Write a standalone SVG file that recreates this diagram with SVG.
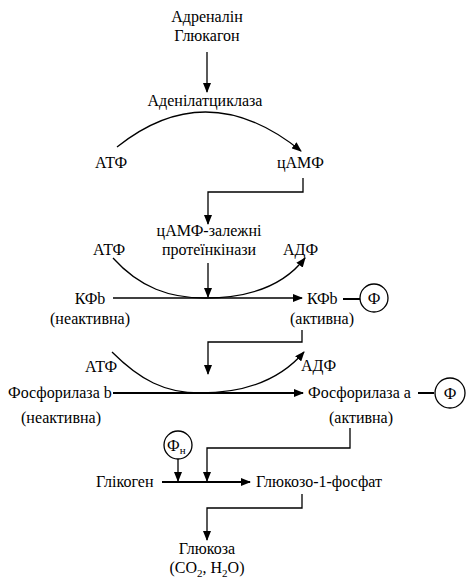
<svg xmlns="http://www.w3.org/2000/svg" width="476" height="580" viewBox="0 0 476 580">
<style>
text{font-family:"Liberation Serif","Times New Roman",serif;font-size:16px;fill:#000}
.c{text-anchor:middle}
.l{fill:none;stroke:#000;stroke-width:1.3}
.t{fill:none;stroke:#000;stroke-width:2}
.o{fill:#fff;stroke:#000;stroke-width:1.3}
</style>
<defs>
<marker id="a" viewBox="0 0 10 8" refX="9" refY="4" markerWidth="10" markerHeight="8" markerUnits="userSpaceOnUse" orient="auto">
<path d="M0,0 L10,4 L0,8 Z" fill="#000"/>
</marker>
</defs>
<rect width="476" height="580" fill="#fff"/>
<g id="connectors">
<path class="l" d="M207,52 V92" marker-end="url(#a)"/>
<path class="l" d="M117,147 Q207,75 301,151" marker-end="url(#a)"/>
<path class="l" d="M303,178 V192 H208 V224" marker-end="url(#a)"/>
<path class="l" d="M208,263 V297" marker-end="url(#a)"/>
<path class="l" d="M113,298 H302" marker-end="url(#a)"/>
<path class="l" d="M113,258 C140,288 170,298 205,298 C245,298 282,288 305,258" marker-end="url(#a)"/>
<path class="t" d="M343,299 H360"/>
<path class="l" d="M302,330 V342 H208 V374" marker-end="url(#a)"/>
<path class="l" d="M112,352 C140,380 165,393 200,393 C245,393 280,380 304,352" marker-end="url(#a)"/>
<path class="t" d="M113,393 H303" marker-end="url(#a)"/>
<path class="t" d="M418,393 H434"/>
<path class="l" d="M350,428 V448 H207 V481" marker-end="url(#a)"/>
<path class="l" d="M178,459 V481" marker-end="url(#a)"/>
<path class="t" d="M162,482 H250" marker-end="url(#a)"/>
<path class="l" d="M302,494 V508 H207 V540" marker-end="url(#a)"/>
</g>
<g id="hormones">
<text class="c" x="207" y="22">Адреналін</text>
<text class="c" x="207" y="41">Глюкагон</text>
</g>
<g id="adenylate-cyclase"><text class="c" x="205" y="106">Аденілатциклаза</text></g>
<g id="atp1"><text x="95" y="168">АТФ</text></g>
<g id="camp"><text x="277" y="168">цАМФ</text></g>
<g id="pka">
<text class="c" x="209" y="236">цАМФ-залежні</text>
<text class="c" x="209" y="255">протеїнкінази</text>
</g>
<g id="atp2"><text x="93" y="255">АТФ</text></g>
<g id="adp2"><text x="283" y="255">АДФ</text></g>
<g id="kfb-inactive">
<text class="c" x="90" y="304">КФb</text>
<text class="c" x="90" y="324">(неактивна)</text>
</g>
<g id="kfb-active">
<text x="307" y="304">КФb</text>
<text class="c" x="322" y="324">(активна)</text>
</g>
<g id="p1">
<circle class="o" cx="374" cy="298" r="14"/>
<text class="c" x="374" y="304">Ф</text>
</g>
<g id="atp3"><text x="85" y="372">АТФ</text></g>
<g id="adp3"><text x="301" y="371">АДФ</text></g>
<g id="phosphorylase-b">
<text x="8" y="398">Фосфорилаза b</text>
<text class="c" x="61" y="423">(неактивна)</text>
</g>
<g id="phosphorylase-a">
<text x="308" y="398">Фосфорилаза а</text>
<text class="c" x="361" y="423">(активна)</text>
</g>
<g id="p2">
<circle class="o" cx="450" cy="393" r="15"/>
<text class="c" x="450" y="399">Ф</text>
</g>
<g id="pi">
<circle class="o" cx="178" cy="445" r="14"/>
<text x="167" y="451">Ф<tspan font-size="11" dy="3">н</tspan></text>
</g>
<g id="glycogen"><text x="96" y="487">Глікоген</text></g>
<g id="g1p"><text x="256" y="487">Глюкозо-1-фосфат</text></g>
<g id="glucose">
<text class="c" x="207" y="554">Глюкоза</text>
<text class="c" x="207" y="573">(CO<tspan font-size="11" dy="4">2</tspan><tspan dy="-4">, H</tspan><tspan font-size="11" dy="4">2</tspan><tspan dy="-4">O)</tspan></text>
</g>
</svg>
